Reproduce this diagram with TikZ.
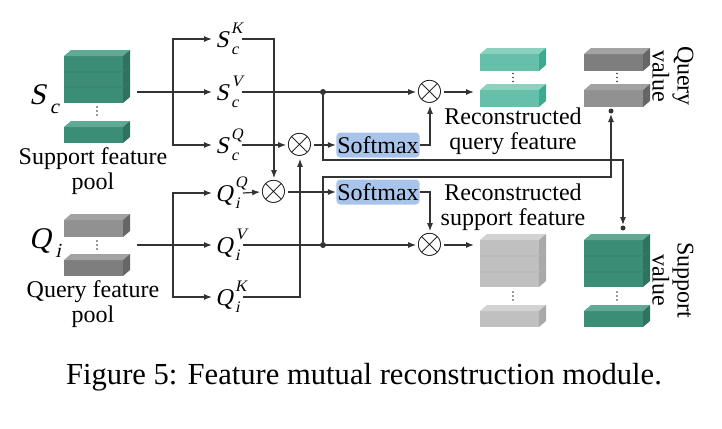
\documentclass[tikz,border=0pt]{standalone}
\usepackage{fontspec}
\setmainfont{Liberation Serif}
\newfontfamily\slantfont{Liberation Serif}[FakeSlant=0.22]
\usetikzlibrary{arrows.meta}

\definecolor{tealF}{HTML}{3B8D75}
\definecolor{tealT}{HTML}{5FAA95}
\definecolor{tealS}{HTML}{2E735F}
\definecolor{ltealF}{HTML}{66BFA8}
\definecolor{ltealT}{HTML}{8CD0BF}
\definecolor{ltealS}{HTML}{3BAA8E}
\definecolor{grayF}{HTML}{7E7E7E}
\definecolor{grayT}{HTML}{A2A2A2}
\definecolor{grayS}{HTML}{666666}
\definecolor{lgrayF}{HTML}{C1C0C1}
\definecolor{lgrayT}{HTML}{D2D2D2}
\definecolor{lgrayS}{HTML}{A9A9A9}
\definecolor{softblue}{HTML}{A8C4EA}
\definecolor{linec}{HTML}{333333}

% feature block: x, front top y, front bottom y, front, top, side colour
\newcommand{\featblock}[6]{%
  \fill[#4] (#1,#2) rectangle (#1+59,#3);
  \fill[#5] (#1,#2) -- ++(7,-6) -- ++(59,0) -- ++(-7,6) -- cycle;
  \fill[#6] (#1+59,#2) -- ++(7,-6) -- (#1+66,#3-6) -- (#1+59,#3) -- cycle;
}
% layer line inside a stack
\newcommand{\layerline}[3]{%
  \draw[#3,line width=0.3pt] (#1,#2) -- (#1+59,#2) -- ++(7,-6);
}
% three small dots
\newcommand{\featdots}[2]{%
  \fill[linec] (#1,#2) circle (0.9) (#1,#2+4) circle (0.9) (#1,#2+8) circle (0.9);
}
% letter with stacked sub- and superscript
\newcommand{\featname}[3]{%
  {\slantfont #1}\kern1.2pt\makebox[0pt][l]{\raisebox{7pt}{\fontsize{8}{8}\slantfont #3}}%
  \raisebox{-3.6pt}{\fontsize{8}{8}\slantfont #2}}

\tikzset{
  arr/.style={-{Latex[length=4pt,width=3pt]},line width=0.6pt,draw=linec},
  mult/.style={circle,inner sep=-1.5pt,font=\fontsize{16}{16}\selectfont},
  softbox/.style={fill=softblue,rounded corners=2pt,minimum width=41.5pt,minimum height=12.5pt,inner sep=0.5pt,font=\fontsize{12}{12}\selectfont},
  feat/.style={anchor=west,inner sep=1.5pt,font=\fontsize{12}{12}\selectfont},
  lbl/.style={align=center,inner sep=0pt,font=\fontsize{12}{12.5}\selectfont},
  jdot/.style={circle,fill=linec,inner sep=0pt,minimum size=3pt}
}

\begin{document}
\begin{tikzpicture}[x=0.5pt,y=-0.5pt]
        \useasboundingbox (0,0) rectangle (722,428);
        % Draw support feature pool
        \featblock{64}{56}{103}{tealF}{tealT}{tealS}
        \layerline{64}{72}{tealS!50!tealF}
        \layerline{64}{87}{tealS!50!tealF}
        \featdots{97}{107}
        \featblock{64}{127}{143}{tealF}{tealT}{tealS}
        \node[font=\fontsize{15}{15}\selectfont] (sc) at (44,99) {\slantfont S\kern2pt\raisebox{-4.6pt}{\fontsize{10}{10}\slantfont c}};
        \node[lbl] (spool) at (93,171) {Support feature\\pool};
        % Draw query feature pool
        \featblock{64}{220}{237}{grayF!85!white}{grayT}{grayS}
        \featdots{97}{241}
        \featblock{64}{260}{276}{grayF}{grayT}{grayS}
        \node[font=\fontsize{15}{15}\selectfont] (qi) at (45,243) {\slantfont Q\kern2.2pt\raisebox{-4.6pt}{\fontsize{10}{10}\slantfont i}};
        \node[lbl] (qpool) at (93,304) {Query feature\\pool};
        % Draw key, value and query features
        \node[feat] (sk) at (212,39) {\featname{S}{c}{K}};
        \node[feat] (sv) at (212,92) {\featname{S}{c}{V}};
        \node[feat] (sq) at (212,145) {\featname{S}{c}{Q}};
        \node[feat] (qq) at (212,193) {\featname{Q}{i}{Q}};
        \node[feat] (qv) at (212,245) {\featname{Q}{i}{V}};
        \node[feat] (qk) at (212,297) {\featname{Q}{i}{K}};
        % Draw branches
        \coordinate (scsrc) at (137,92);
        \coordinate (scbr) at (173,92);
        \coordinate (qisrc) at (137,245);
        \coordinate (qibr) at (173,245);
        \draw[arr] (scsrc) -- (sv.west);
        \draw[arr] (scbr) |- (sk.west);
        \draw[arr] (scbr) |- (sq.west);
        \draw[arr] (qisrc) -- (qv.west);
        \draw[arr] (qibr) |- (qq.west);
        \draw[arr] (qibr) |- (qk.west);
        % Draw products and softmax
        \node[mult] (mq) at (300,145) {$\otimes$};
        \node[mult] (mk) at (274,192) {$\otimes$};
        \node[mult] (mtop) at (430,92) {$\otimes$};
        \node[mult] (mbot) at (430,245) {$\otimes$};
        \node[softbox] (smq) at (378,145) {Softmax};
        \node[softbox] (sms) at (378,192) {Softmax};
        \draw[arr] (sk.east) -| (mk.north);
        \draw[arr] (sq.east) -- (mq.west);
        \draw[arr] (qq.east) -- (mk.west);
        \draw[arr] (qk.east) -| (mq.south);
        \draw[arr] (mq.east) -- (smq.west);
        \draw[arr] (mk.east) -- (sms.west);
        \draw[arr] (smq.east) -| (mtop.south);
        \draw[arr] (sms.east) -| (mbot.north);
        \draw[arr] (sv.east) -- (mtop.west);
        \draw[arr] (qv.east) -- (mbot.west);
        % Draw value routes
        \node[jdot] (jv) at (323,92) {};
        \node[jdot] (jq) at (323,245) {};
        \coordinate (sroute) at (623,160);
        \coordinate (qroute) at (611,177);
        \coordinate (svin) at (623,225);
        \coordinate (qvin) at (611,114);
        \draw[arr] (jv) |- (sroute) -- (svin);
        \draw[arr] (jq) |- (qroute) -- (qvin);
        \node[jdot,minimum size=2.5pt] (svdot) at (623,228) {};
        \node[jdot,minimum size=2.5pt] (qvdot) at (611,111) {};
        % Draw reconstructed query feature
        \coordinate (rqin) at (474,92);
        \draw[arr] (mtop.east) -- (rqin);
        \featblock{480}{54}{71}{ltealF}{ltealT}{ltealS}
        \featdots{513}{73.5}
        \featblock{480}{90}{107}{ltealF}{ltealT}{ltealS}
        \node[lbl] (rqtxt) at (513,131) {Reconstructed\\query feature};
        % Draw query value
        \featblock{584}{54}{71}{grayF}{grayT}{grayS}
        \featdots{617}{73.5}
        \featblock{584}{90}{107}{grayF!85!white}{grayT}{grayS}
        \node[lbl,rotate=-90] (qvtxt) at (673,76) {Query\\value};
        % Draw reconstructed support feature
        \coordinate (rsin) at (474,245);
        \draw[arr] (mbot.east) -- (rsin);
        \featblock{480}{240}{287}{lgrayF}{lgrayT}{lgrayS}
        \layerline{480}{256}{lgrayS!60!lgrayF}
        \layerline{480}{272}{lgrayS!60!lgrayF}
        \featdots{513}{292}
        \featblock{480}{311}{327}{lgrayF}{lgrayT}{lgrayS}
        \node[lbl] (rstxt) at (513,207) {Reconstructed\\support feature};
        % Draw support value
        \featblock{584}{240}{287}{tealF}{tealT}{tealS}
        \layerline{584}{256}{tealS!50!tealF}
        \layerline{584}{272}{tealS!50!tealF}
        \featdots{617}{292}
        \featblock{584}{311}{327}{tealF}{tealT}{tealS}
        \node[lbl,rotate=-90] (svtxt) at (673,280) {Support\\value};
        % Draw caption
        \node[font=\fontsize{15.3}{16}\selectfont] (cap) at (364,377) {Figure 5: Feature mutual reconstruction module.};
\end{tikzpicture}
\end{document}
